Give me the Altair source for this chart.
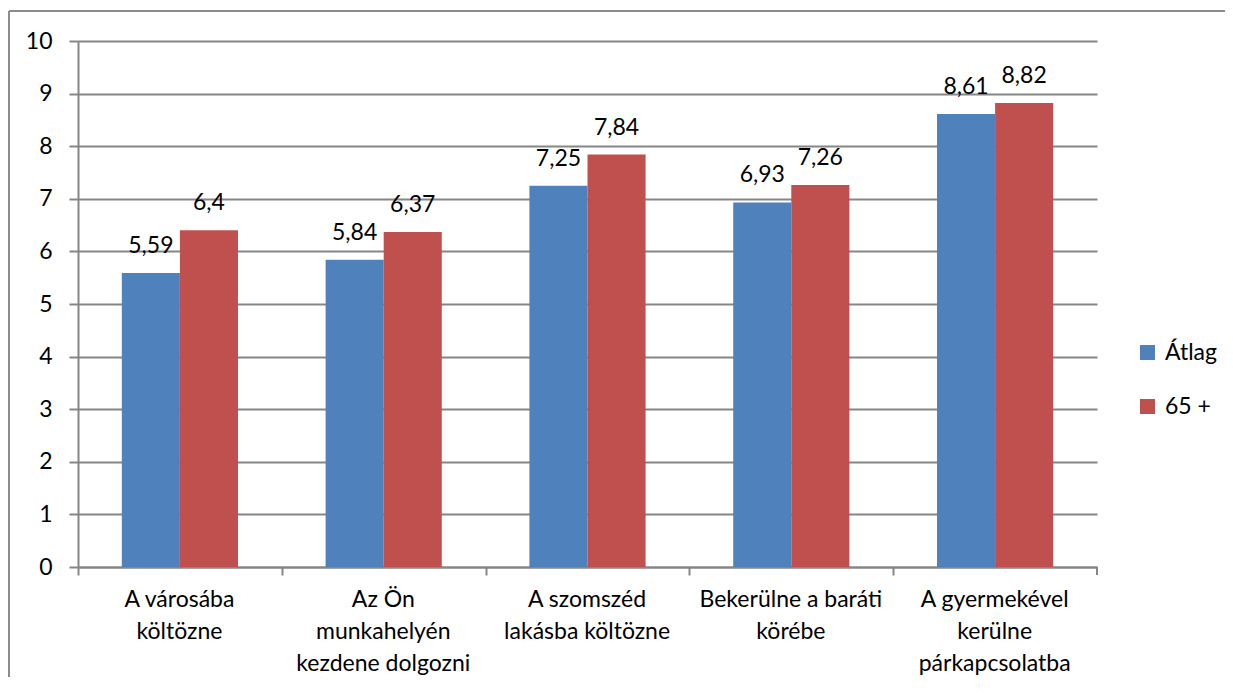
import altair as alt
import pandas as pd

categories = [
    "A városába|költözne",
    "Az Ön|munkahelyén|kezdene dolgozni",
    "A szomszéd|lakásba költözne",
    "Bekerülne a baráti|körébe",
    "A gyermekével|kerülne|párkapcsolatba",
]
series_names = ["Átlag", "65 +"]
atlag = [5.59, 5.84, 7.25, 6.93, 8.61]
plus65 = [6.4, 6.37, 7.84, 7.26, 8.82]
colors = ["#4F81BD", "#C0504D"]

rows = []
for c, a, b in zip(categories, atlag, plus65):
    rows.append({"cat": c, "series": series_names[0], "value": a})
    rows.append({"cat": c, "series": series_names[1], "value": b})
df = pd.DataFrame(rows)

W, H = 1019, 526
FONT = "Lato"
GRAY = "#868686"
step = W / len(categories)
pad_inner = 0.43

x_enc = alt.X(
    "cat:N",
    sort=categories,
    title=None,
    scale=alt.Scale(paddingInner=pad_inner, paddingOuter=pad_inner / 2),
    axis=alt.Axis(
        bandPosition=0,
        tickOffset=-(pad_inner / 2) * step,
        labelOffset=step / 2 - 59,
        labelExpr="split(datum.value, '|')",
        labelAngle=0,
        labelAlign="center",
        labelBaseline="top",
        labelLineHeight=32,
        labelPadding=13,
        labelFontSize=23,
        labelFont=FONT,
        labelColor="#000000",
        labelLimit=400,
        tickSize=8,
        tickColor=GRAY,
        tickWidth=2,
        domainColor=GRAY,
        domainWidth=2,
        grid=False,
    ),
)
xoff = alt.XOffset("series:N", sort=series_names,
                   scale=alt.Scale(paddingInner=0, paddingOuter=0))
y_enc = alt.Y(
    "value:Q",
    title=None,
    scale=alt.Scale(domain=[0, 10], nice=False),
    axis=alt.Axis(
        values=list(range(0, 11)),
        labelFontSize=23,
        labelFont=FONT,
        labelColor="#000000",
        labelPadding=17,
        tickSize=9,
        tickColor=GRAY,
        tickWidth=2,
        domainColor=GRAY,
        domainWidth=2,
        gridColor=GRAY,
        gridWidth=2,
        gridOpacity=1,
    ),
)

base = alt.Chart(df)

bars = base.mark_bar().encode(
    x=x_enc,
    xOffset=xoff,
    y=y_enc,
    color=alt.Color(
        "series:N",
        sort=series_names,
        scale=alt.Scale(domain=series_names, range=colors),
        legend=alt.Legend(
            title=None,
            orient="none",
            legendX=1058,
            legendY=300,
            symbolType="square",
            symbolSize=225,
            symbolStrokeWidth=0,
            labelFontSize=23,
            labelFont=FONT,
            labelColor="#000000",
            labelOffset=6,
            rowPadding=30,
        ),
    ),
)

labels = base.transform_calculate(
    lbl="replace(toString(datum.value), '.', ',')"
).mark_text(
    baseline="alphabetic", dy=-20, fontSize=23, font=FONT, color="#000000"
).encode(
    x=alt.X("cat:N", sort=categories),
    xOffset=xoff,
    y=alt.Y("value:Q"),
    text="lbl:N",
)

end_tick = base.mark_rule(color=GRAY, strokeWidth=2).encode(
    x=alt.value(W), y=alt.value(H), y2=alt.value(H + 8)
)

frame = base.mark_rule(color="#8c8c8c", strokeWidth=2).encode(
    x=alt.value(-69), x2=alt.value(W + 200), y=alt.value(-30)
)
frame_left = base.mark_rule(color="#8c8c8c", strokeWidth=2).encode(
    x=alt.value(-69), y=alt.value(-30), y2=alt.value(H + 200)
)

chart = (
    alt.layer(frame, frame_left, bars, labels, end_tick)
    .properties(
        width=W,
        height=H,
        autosize=alt.AutoSizeParams(type="none"),
        padding={"left": 70, "top": 33, "right": 128, "bottom": 110},
    )
    .configure_view(stroke=None)
)

chart.save("out.html", embed_options={"renderer": "svg", "actions": False})
